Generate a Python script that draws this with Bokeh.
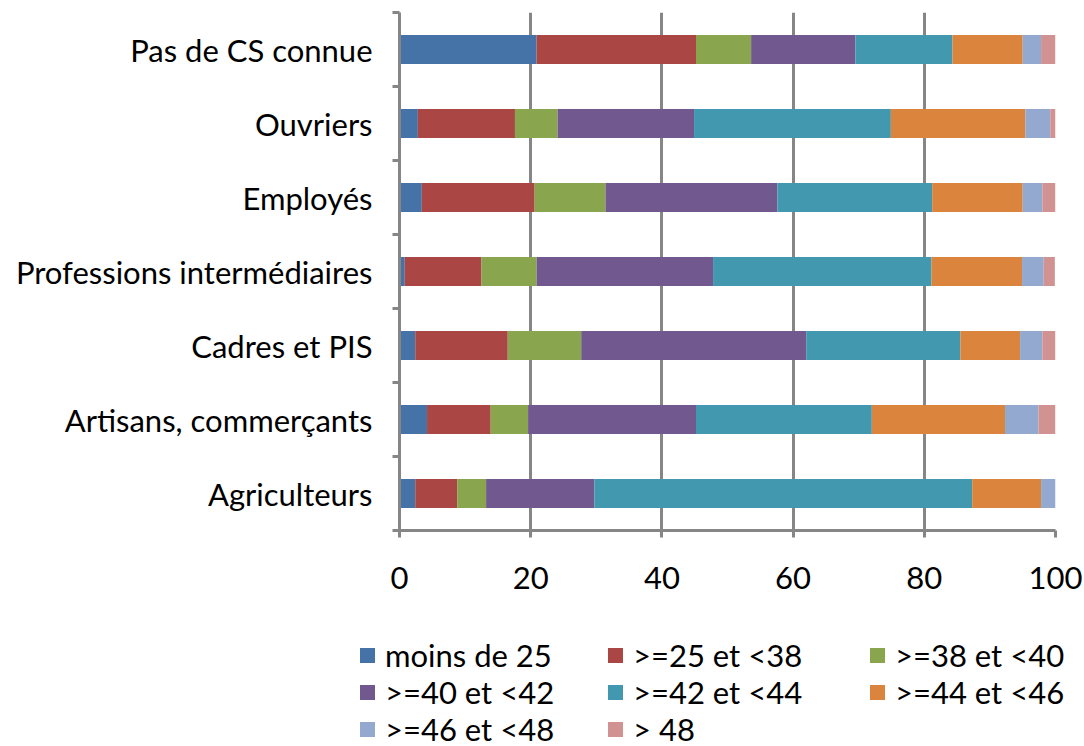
from bokeh.plotting import figure
from bokeh.models import ColumnDataSource, Range1d, FixedTicker, Div
from bokeh.layouts import column
from bokeh.embed import file_html
from bokeh.resources import INLINE

# Categories (bottom -> top)
categories = ["Agriculteurs", "Artisans, commerçants", "Cadres et PIS",
              "Professions intermédiaires", "Employés", "Ouvriers", "Pas de CS connue"]

series_labels = ["moins de 25", ">=25 et <38", ">=38 et <40", ">=40 et <42",
                 ">=42 et <44", ">=44 et <46", ">=46 et <48", "> 48"]

moins_25 = [2.4, 4.2, 2.4, 0.8, 3.4, 2.8, 20.9]
de25_38 = [6.4, 9.7, 14.1, 11.7, 17.2, 14.8, 24.3]
de38_40 = [4.4, 5.7, 11.2, 8.4, 10.8, 6.5, 8.4]
de40_42 = [16.5, 25.6, 34.3, 26.9, 26.2, 20.8, 15.9]
de42_44 = [57.6, 26.8, 23.5, 33.3, 23.6, 30.0, 14.8]
de44_46 = [10.5, 20.3, 9.1, 13.8, 13.8, 20.5, 10.7]
de46_48 = [2.2, 5.1, 3.4, 3.3, 3.0, 3.8, 2.8]
plus_48 = [0.0, 2.6, 2.0, 1.7, 2.0, 0.9, 2.2]

x_ticks = [0, 20, 40, 60, 80, 100]

colors = ["#4572A7", "#AA4643", "#89A54E", "#71588F",
          "#4198AF", "#DB843D", "#93A9CF", "#D19392"]

series = [moins_25, de25_38, de38_40, de40_42, de42_44, de44_46, de46_48, plus_48]
keys = ["s%d" % i for i in range(len(series))]
ypos = list(range(len(categories)))
data = {"y": ypos}
for k, s in zip(keys, series):
    data[k] = s
source = ColumnDataSource(data)

FONT = "Lato"
FSIZE = "31px"
GREY = "#868686"

p = figure(width=1084, height=610, output_backend="svg", toolbar_location=None,
           x_range=Range1d(0, 100), y_range=Range1d(-0.5, len(categories) - 0.5),
           min_border_left=399, min_border_right=29, min_border_top=12,
           min_border_bottom=80)

renderers = p.hbar_stack(keys, y="y", height=0.39, fill_color=colors,
                         line_color=None, source=source)

p.outline_line_color = None

# x axis
p.xaxis.ticker = FixedTicker(ticks=x_ticks, minor_ticks=[])
p.xaxis.axis_line_color = GREY
p.xaxis.axis_line_width = 3
p.xaxis.major_tick_line_color = GREY
p.xaxis.major_tick_line_width = 3
p.xaxis.major_tick_out = 7
p.xaxis.major_tick_in = 0
p.xaxis.minor_tick_line_color = None
p.xaxis.major_label_text_font = FONT
p.xaxis.major_label_text_font_size = FSIZE
p.xaxis.major_label_text_color = "black"
p.xaxis.major_label_standoff = 29

# y axis
p.yaxis.ticker = FixedTicker(ticks=ypos,
                             minor_ticks=[i - 0.5 for i in range(len(categories) + 1)])
p.yaxis.major_label_overrides = {i: c for i, c in enumerate(categories)}
p.yaxis.axis_line_color = GREY
p.yaxis.axis_line_width = 3
p.yaxis.major_tick_line_color = None
p.yaxis.major_tick_out = 0
p.yaxis.major_tick_in = 0
p.yaxis.minor_tick_line_color = GREY
p.yaxis.minor_tick_line_width = 3
p.yaxis.minor_tick_out = 7
p.yaxis.minor_tick_in = 0
p.yaxis.major_label_text_font = FONT
p.yaxis.major_label_text_font_size = FSIZE
p.yaxis.major_label_text_color = "black"
p.yaxis.major_label_standoff = 20

# grid
p.xgrid.ticker = FixedTicker(ticks=x_ticks, minor_ticks=[])
p.xgrid.grid_line_color = GREY
p.xgrid.grid_line_width = 3
p.ygrid.grid_line_color = None

# Legend (3 columns, row-major), built as HTML under the chart
COL_LEFTS = [360, 608, 870]
LEG_TOP, ROW_PITCH = 30, 37
parts = []
for i, (lab, col) in enumerate(zip(series_labels, colors)):
    r, c = divmod(i, 3)
    txt = lab.replace("&", "&amp;").replace("<", "&lt;").replace(">", "&gt;")
    parts.append(
        f'<div style="position:absolute;left:{COL_LEFTS[c]}px;'
        f'top:{LEG_TOP + ROW_PITCH * r}px;height:30px;display:flex;'
        f'align-items:center;white-space:nowrap;">'
        f'<span style="display:inline-block;width:15px;height:15px;'
        f'background:{col};margin-right:10px;"></span>{txt}</div>')
html = (f'<div style="position:relative;width:1084px;height:136px;'
        f'font-family:Lato;font-size:{FSIZE};color:black;line-height:30px;">'
        + "".join(parts) + "</div>")
legend_div = Div(text=html, width=1084, height=136, margin=0)

layout = column(p, legend_div, spacing=0)
open("out.html", "w").write(file_html(layout, INLINE))
